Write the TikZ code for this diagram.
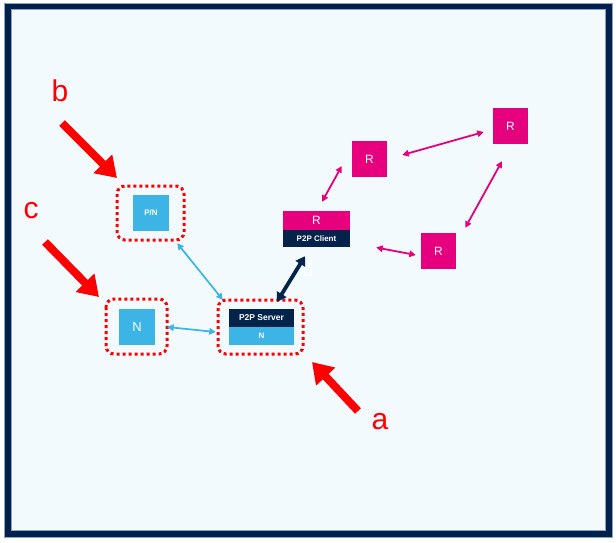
\documentclass[tikz,border=0pt]{standalone}
\usepackage{fontspec}
\setmainfont{Liberation Sans}
\usetikzlibrary{arrows.meta,calc}
\definecolor{stblue}{HTML}{3CB4E6}
\definecolor{stpink}{HTML}{E6007E}
\definecolor{stnavy}{HTML}{03234B}
\definecolor{framenavy}{HTML}{00204E}
\definecolor{bgpale}{HTML}{F2FAFE}
\definecolor{edgegray}{HTML}{8FA3BF}
\tikzset{
  box/.style={draw=none,rectangle,inner sep=0pt,text=white,font=\fontsize{12}{12}\selectfont},
  bluebox/.style={box,fill=stblue,minimum width=36pt,minimum height=36pt},
  pinkbox/.style={box,fill=stpink,minimum width=35pt,minimum height=36pt},
  hilite/.style={draw=red,line width=3pt,dash pattern=on 3pt off 3pt,rounded corners=8pt},
  barr/.style={draw=stblue,line width=1.7pt,{Triangle[length=6.5pt,width=6.5pt]}-{Triangle[length=6.5pt,width=6.5pt]}},
  parr/.style={draw=stpink,line width=1.8pt,{Triangle[length=6.5pt,width=6.5pt]}-{Triangle[length=6.5pt,width=6.5pt]}},
  narr/.style={draw=stnavy,line width=3.8pt,{Triangle[length=9pt,width=11pt]}-{Triangle[length=9pt,width=11pt]}},
  redarr/.style={draw=red,line width=8pt,-{Triangle[length=20pt,width=25pt]}},
  letter/.style={text=red,font=\fontsize{30}{30}\selectfont,inner sep=0pt}
}
\begin{document}
\begin{tikzpicture}[x=1pt,y=-1pt]
\useasboundingbox (0,0) rectangle (616,542);
\fill[white] (0,0) rectangle (616,542);
% frame
\fill[bgpale] (10.5,9.5) rectangle (605,531);
\draw[framenavy,line width=6.5pt] (7.6,6.4) rectangle (608.5,534);
\draw[edgegray,line width=0.5pt] (4.3,3.1) rectangle (611.8,537.3);
\draw[edgegray,line width=0.5pt] (10.9,9.7) rectangle (605.2,530.7);

% highlight frames
\draw[hilite] (117,186) rectangle (184,240);
\draw[hilite] (106,299) rectangle (167,354);
\draw[hilite] (218,300) rectangle (303,354);

% blue boxes
\node[bluebox,font=\fontsize{8}{8}\selectfont\bfseries] (pn) at (151,213) {P/N};
\node[bluebox,font=\fontsize{13}{13}\selectfont] (n) at (137,327) {N};
\node[box,fill=stnavy,minimum width=65pt,minimum height=18pt,font=\fontsize{8.5}{9}\selectfont\bfseries] (srvtop) at (261.5,318) {P2P Server};
\node[box,fill=stblue,minimum width=65pt,minimum height=18pt,font=\fontsize{8}{8}\selectfont\bfseries] (srvbot) at (261.5,336) {N};

% client
\node[box,fill=stpink,minimum width=67pt,minimum height=19pt] (cltop) at (316.5,220.5) {R};
\node[box,fill=stnavy,minimum width=67pt,minimum height=17pt,font=\fontsize{8}{8}\selectfont\bfseries] (clbot) at (316.5,238.5) {P2P Client};

% pink R boxes
\node[pinkbox] (rm) at (369.5,159) {R};
\node[pinkbox] (rtr) at (510.5,126) {R};
\node[pinkbox] (rbr) at (438.5,251) {R};

% faint label
\node[text=white,font=\fontsize{20}{20}\selectfont,inner sep=0pt] (dl) at (308,269) {d};

% connectors
\draw[barr] ([shift={(8,12)}]pn.south east) -- ([shift={(-6,-9)}]srvtop.north west);
\draw[barr] ([shift={(12,0)}]n.east) -- ([shift={(-13,-4)}]srvbot.west);
\draw[narr] ([shift={(15.5,-7)}]srvtop.north) -- ([shift={(-11.5,9)}]clbot.south);
\draw[parr] ([shift={(5.5,-9)}]cltop.north) -- ([shift={(-10,7)}]rm.west);
\draw[parr] ([shift={(15,-4)}]rm.east) -- ([shift={(-9,6)}]rtr.west);
\draw[parr] ([shift={(-8.5,17)}]rtr.south) -- ([shift={(9,-5)}]rbr.north east);
\draw[parr] ([shift={(26,9)}]clbot.east) -- ([shift={(-5,4)}]rbr.west);

% annotation letters and arrows
\node[letter] (lb) at (60,91) {b};
\node[letter] (lc) at (31,211) {c};
\node[letter] (la) at (380,422) {a};
\coordinate (bt) at (62,123);
\coordinate (bh) at (117,178);
\coordinate (ct) at (45,242);
\coordinate (ch) at (99,297);
\coordinate (at) at (358,411);
\coordinate (ah) at (312,362);
\draw[redarr] (bt) -- (bh);
\draw[redarr] (ct) -- (ch);
\draw[redarr] (at) -- (ah);
\end{tikzpicture}
\end{document}
